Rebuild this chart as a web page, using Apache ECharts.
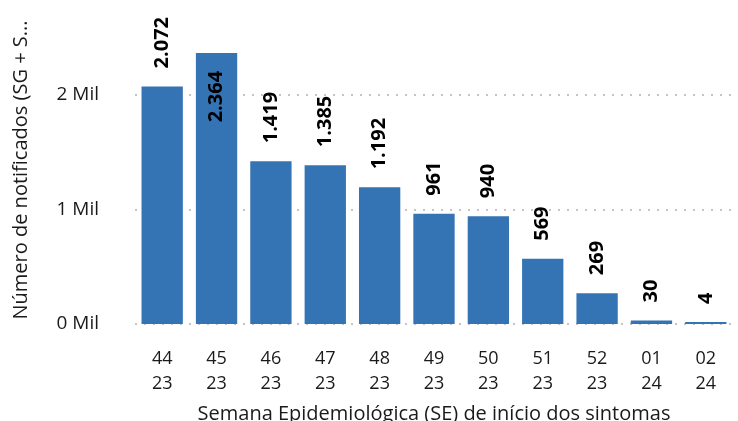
<!DOCTYPE html>
<html>
<head>
<meta charset="utf-8">
<script src="https://cdn.jsdelivr.net/npm/echarts@6/dist/echarts.min.js"></script>
<style>
  html, body { margin: 0; padding: 0; background: #fff; }
  #chart { width: 738px; height: 421px; }
</style>
</head>
<body>
<div id="chart"></div>
<script>
// semanas epidemiológicas
var semanas = ['44\n23', '45\n23', '46\n23', '47\n23', '48\n23', '49\n23', '50\n23', '51\n23', '52\n23', '01\n24', '02\n24'];
var notificados = [2072, 2364, 1419, 1385, 1192, 961, 940, 569, 269, 30, 4];
var yTicks = [0, 1000, 2000];

var fonte = '"Open Sans", "Noto Sans", sans-serif';
var corTexto = '#1a1a1a';

function formatNum(v) {
  return String(v).replace(/\B(?=(\d{3})+(?!\d))/g, '.');
}

var chart = echarts.init(document.getElementById('chart'));

var dados = notificados.map(function (v, i) {
  // a barra mais alta tem o rótulo dentro
  if (v === Math.max.apply(null, notificados)) {
    return {
      value: v,
      label: { position: 'insideTop', align: 'right', distance: 18 }
    };
  }
  return v;
});

var option = {
  animation: false,
  grid: {
    left: 135,
    right: 5,
    top: -20,
    bottom: 97,
    outerBoundsMode: 'none'
  },
  xAxis: {
    type: 'category',
    data: semanas,
    axisLine: { show: false },
    axisTick: { show: false },
    axisLabel: {
      color: corTexto,
      fontFamily: fonte,
      fontSize: 18,
      lineHeight: 25,
      margin: 22
    },
    name: 'Semana Epidemiológica (SE) de início dos sintomas',
    nameLocation: 'middle',
    nameGap: 80,
    nameTextStyle: { color: corTexto, fontFamily: fonte, fontSize: 20 }
  },
  yAxis: {
    type: 'value',
    min: 0,
    max: 3000,
    interval: 1000,
    axisLine: { show: false },
    axisTick: { show: false },
    splitLine: {
      lineStyle: { color: '#c4c4c4', type: [2, 7], width: 2 }
    },
    axisLabel: {
      color: corTexto,
      fontFamily: fonte,
      fontSize: 19,
      margin: 36,
      formatter: function (v) {
        return yTicks.indexOf(v) >= 0 ? (v / 1000) + ' Mil' : '';
      }
    },
    name: 'Número de notificados (SG + S...',
    nameLocation: 'middle',
    nameGap: 104,
    nameRotate: 90,
    nameTextStyle: { color: corTexto, fontFamily: fonte, fontSize: 20, padding: [0, 36, 0, 0] }
  },
  series: [{
    type: 'bar',
    data: dados,
    barCategoryGap: '24%',
    barMinHeight: 2,
    itemStyle: { color: '#3474b4' },
    label: {
      show: true,
      position: 'top',
      rotate: 90,
      align: 'left',
      verticalAlign: 'middle',
      distance: 18,
      color: '#000',
      fontFamily: fonte,
      fontWeight: 'bold',
      fontSize: 20,
      formatter: function (p) { return formatNum(p.value); }
    }
  }]
};

chart.setOption(option);
</script>
</body>
</html>
